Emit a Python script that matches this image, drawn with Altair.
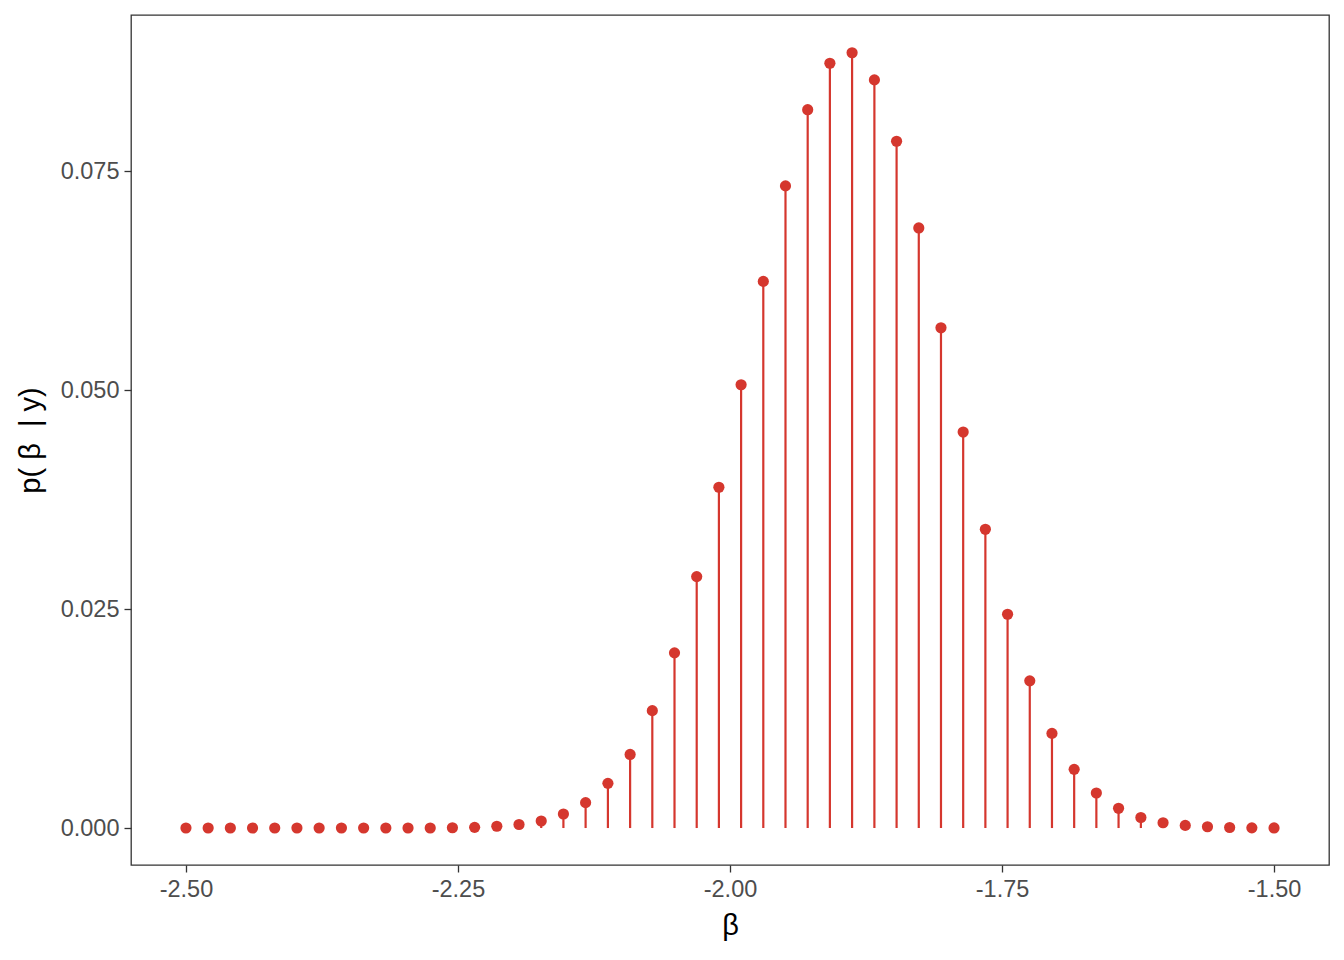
import altair as alt
import pandas as pd

beta = [-2.5000, -2.4796, -2.4592, -2.4388, -2.4184, -2.3980, -2.3776, -2.3571,
        -2.3367, -2.3163, -2.2959, -2.2755, -2.2551, -2.2347, -2.2143, -2.1939,
        -2.1735, -2.1531, -2.1327, -2.1122, -2.0918, -2.0714, -2.0510, -2.0306,
        -2.0102, -1.9898, -1.9694, -1.9490, -1.9286, -1.9082, -1.8878, -1.8673,
        -1.8469, -1.8265, -1.8061, -1.7857, -1.7653, -1.7449, -1.7245, -1.7041,
        -1.6837, -1.6633, -1.6429, -1.6224, -1.6020, -1.5816, -1.5612, -1.5408,
        -1.5204, -1.5000]
prob = [0, 0, 0, 0, 0, 0, 0, 0, 0, 0, 0, 0,
        0.00003, 0.00008, 0.0002, 0.0004, 0.0008, 0.0016, 0.0029, 0.0051,
        0.0084, 0.0134, 0.0200, 0.0287, 0.0389, 0.0506, 0.0624, 0.0733,
        0.0820, 0.0873, 0.0885, 0.0854, 0.0784, 0.0685, 0.0571, 0.0452,
        0.0341, 0.0244, 0.0168, 0.0108, 0.0067, 0.0040, 0.00225, 0.0012,
        0.0006, 0.0003, 0.00015, 0.00006, 0.00002, 0.00001]
zero = [0.0] * len(beta)

x_ticks = [-2.5, -2.25, -2.0, -1.75, -1.5]
y_ticks = [0.0, 0.025, 0.05, 0.075]

df = pd.DataFrame({"beta": beta, "p": prob, "zero": zero})
COLOR = "#D5372E"

x_enc = alt.X("beta:Q", title="β",
              scale=alt.Scale(domain=[-2.5505, -1.4495], nice=False, zero=False),
              axis=alt.Axis(values=x_ticks,
                            labelExpr="replace(format(datum.value, '.2f'), '\u2212', '-')"))
y_enc = alt.Y("p:Q", title="p(\u00a0β\u00a0\u00a0|\u00a0y)",
              scale=alt.Scale(domain=[-0.00422, 0.09281], nice=False, zero=False),
              axis=alt.Axis(values=y_ticks, format=".3f"))

base = alt.Chart(df)
stems = base.mark_rule(color=COLOR, strokeWidth=2.2).encode(x=x_enc, y=y_enc, y2="zero:Q")
dots = base.mark_circle(color=COLOR, size=125, opacity=1).encode(x=x_enc, y=y_enc)

chart = (stems + dots).properties(
    width=1198, height=850,
    autosize=alt.AutoSizeParams(type="none"),
    padding={"left": 123, "top": 7, "right": 7, "bottom": 87},
).configure_view(
    stroke="#333333", strokeWidth=1.3
).configure_axis(
    grid=False, domain=False,
    tickColor="#333333", tickSize=7, tickWidth=1.3,
    labelColor="#4D4D4D", labelFont="Liberation Sans", labelFontSize=23.5,
    titleColor="#000000", titleFont="Liberation Sans", titleFontSize=29,
    titleFontWeight="normal",
).configure_axisX(
    labelPadding=5, titlePadding=11
).configure_axisY(
    labelPadding=5, titlePadding=15
)

chart.save("out.html", embed_options={"renderer": "svg", "actions": False})
